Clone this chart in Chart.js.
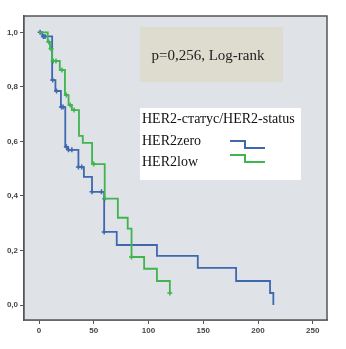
<!DOCTYPE html>
<html lang="ru">
<head>
  <meta charset="UTF-8" />
  <title>HER2 Kaplan-Meier</title>
  <script src="https://cdn.jsdelivr.net/npm/chart.js"></script>
  <style>
    html, body { margin: 0; padding: 0; background: #fff; }
    #wrap { width: 346px; height: 349px; }
  </style>
</head>
<body>
  <div id="wrap"><canvas id="km"></canvas></div>
  <script>
    // survival steps: [time, survival after the drop]
    const her2zero = [[0,1.0],[3,0.985],[12,0.825],[15,0.785],[20,0.726],[24,0.58],[26.5,0.569],[36,0.506],[41,0.47],[48.4,0.415],[59.5,0.268],[71,0.22],[107.7,0.18],[145,0.136],[180,0.088],[211,0.044],[214,0.0]];
    const her2low = [[0,1.0],[8,0.965],[10,0.94],[12,0.895],[19,0.862],[23.7,0.77],[27,0.734],[30,0.715],[36.5,0.62],[40,0.595],[48.5,0.517],[60,0.39],[72,0.32],[81,0.28],[84.5,0.176],[96,0.133],[107.7,0.088],[119.5,0.044]];
    // censored observations
    const zeroCensored = [[1,1.0],[4,0.985],[5.5,0.985],[12.5,0.825],[16,0.785],[20.5,0.726],[22,0.726],[25,0.58],[27,0.569],[30,0.569],[36,0.506],[39,0.506],[48.4,0.415],[57,0.415],[59.5,0.268]];
    const lowCensored = [[9,0.965],[11,0.94],[13,0.895],[15.5,0.895],[21,0.862],[25,0.77],[28.5,0.734],[32,0.715],[50,0.517],[60,0.39],[84.5,0.176],[119.5,0.044]];
    const xTicks = [0, 50, 100, 150, 200, 250];
    const yTicks = [0, 0.2, 0.4, 0.6, 0.8, 1.0];
    const pText = 'p=0,256, Log-rank';
    const legendTitle = 'HER2-статус/HER2-status';
    const groups = ['HER2zero', 'HER2low'];

    const BLUE = '#4068b0';
    const GREEN = '#3fb44f';
    const pts = a => a.map(p => ({ x: p[0], y: p[1] }));

    const decor = {
      id: 'decor',
      beforeDatasetsDraw(chart) {
        const { ctx, chartArea: a } = chart;
        ctx.save();
        ctx.fillStyle = '#dfe2e6';
        ctx.fillRect(a.left, a.top, a.right - a.left, a.bottom - a.top);
        ctx.restore();
      },
      afterDatasetsDraw(chart) {
        const { ctx, chartArea: a } = chart;
        ctx.save();
        // frame
        ctx.strokeStyle = '#555';
        ctx.lineWidth = 1.5;
        ctx.strokeRect(a.left, a.top, a.right - a.left, a.bottom - a.top);

        // p-value box
        ctx.fillStyle = '#dedccf';
        ctx.fillRect(140, 27, 143, 55);
        ctx.fillStyle = '#222';
        ctx.font = '15px "Liberation Serif"';
        ctx.textAlign = 'center';
        ctx.textBaseline = 'middle';
        ctx.fillText(pText, 208, 56);

        // legend
        ctx.fillStyle = '#fff';
        ctx.fillRect(140, 108, 161, 72);
        ctx.fillStyle = '#111';
        ctx.textAlign = 'left';
        ctx.font = '14px "Liberation Serif"';
        ctx.fillText(legendTitle, 142, 119);
        ctx.fillText(groups[0], 142, 141);
        ctx.fillText(groups[1], 142, 162);
        ctx.lineWidth = 2;
        [[BLUE, 141], [GREEN, 155]].forEach(([c, y]) => {
          ctx.strokeStyle = c;
          ctx.beginPath();
          ctx.moveTo(230, y);
          ctx.lineTo(245, y);
          ctx.lineTo(245, y + 7);
          ctx.lineTo(265, y + 7);
          ctx.stroke();
        });
        ctx.restore();
      }
    };

    const fmt = v => v.toFixed(1).replace('.', ',');

    new Chart(document.getElementById('km'), {
      type: 'line',
      data: {
        datasets: [
          { label: groups[1], data: pts(her2low), borderColor: GREEN, borderWidth: 1.8, stepped: true, pointRadius: 0, fill: false },
          { label: groups[0], data: pts(her2zero), borderColor: BLUE, borderWidth: 1.8, stepped: true, pointRadius: 0, fill: false },
          { type: 'scatter', data: pts(lowCensored), pointStyle: 'cross', pointRadius: 2.5, borderColor: GREEN, borderWidth: 1.5, showLine: false },
          { type: 'scatter', data: pts(zeroCensored), pointStyle: 'cross', pointRadius: 2.5, borderColor: BLUE, borderWidth: 1.5, showLine: false }
        ]
      },
      options: {
        responsive: true,
        maintainAspectRatio: false,
        animation: false,
        layout: { padding: { top: 16, right: 19, left: 0, bottom: 0 } },
        plugins: { legend: { display: false }, tooltip: { enabled: false } },
        scales: {
          x: {
            type: 'linear',
            min: -13.7,
            max: 263,
            afterBuildTicks: s => { s.ticks = xTicks.map(v => ({ value: v })); },
            afterFit: s => { s.height = 29; },
            grid: { drawOnChartArea: false, drawTicks: true, tickLength: 4, color: '#555' },
            border: { display: true, color: '#555', width: 1.5 },
            ticks: { color: '#444', font: { family: 'Liberation Sans', size: 8, weight: 'bold' }, padding: 2, maxRotation: 0 }
          },
          y: {
            min: -0.055,
            max: 1.06,
            afterBuildTicks: s => { s.ticks = yTicks.map(v => ({ value: v })); },
            afterFit: s => { s.width = 24; },
            grid: { drawOnChartArea: false, drawTicks: true, tickLength: 4, color: '#555' },
            border: { display: true, color: '#555', width: 1.5 },
            ticks: { color: '#444', font: { family: 'Liberation Sans', size: 8, weight: 'bold' }, padding: 2, callback: v => fmt(v) }
          }
        }
      },
      plugins: [decor]
    });
  </script>
</body>
</html>
